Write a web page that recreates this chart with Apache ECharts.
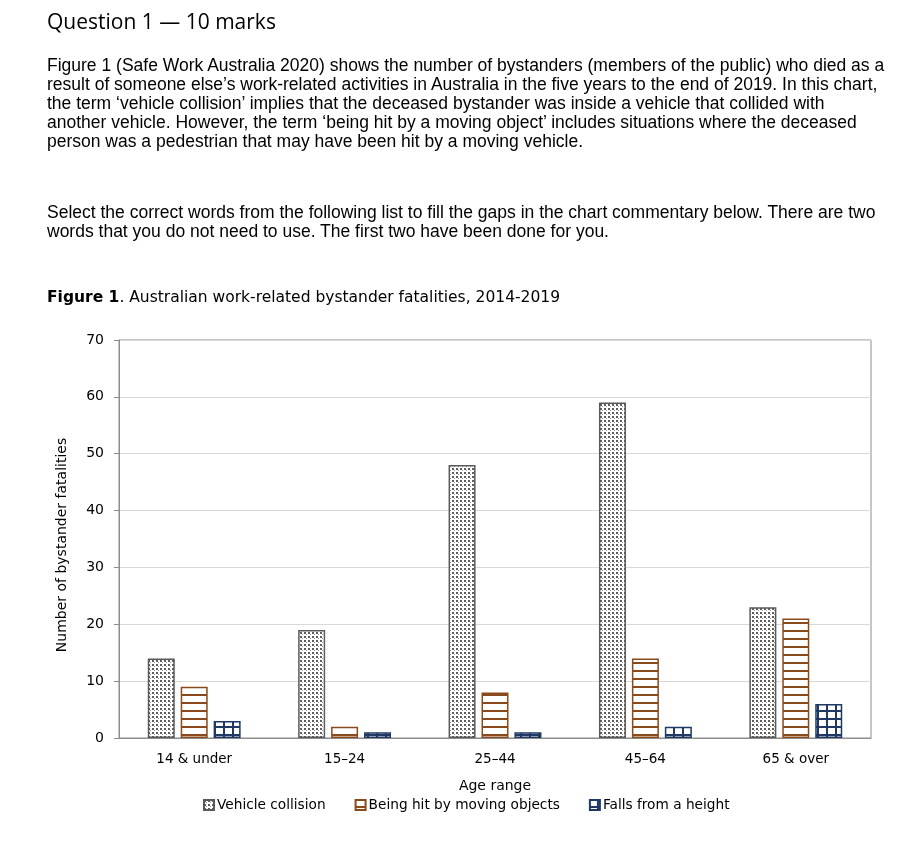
<!DOCTYPE html>
<html><head><meta charset="utf-8">
<script src="https://cdn.jsdelivr.net/npm/echarts@6/dist/echarts.min.js"></script>
<style>
html,body{margin:0;padding:0;background:#fff;}
#wrap{position:relative;width:916px;height:852px;overflow:hidden;}
#chart{position:absolute;left:0;top:0;width:916px;height:852px;}
.t{position:absolute;left:47px;color:#000;white-space:nowrap;}
#q{top:7px;font-family:"Open Sans","Noto Sans",sans-serif;font-size:21px;}
.p{font-family:"Liberation Sans",Arial,sans-serif;font-size:17.5px;line-height:19px;}
#fig{top:288px;font-family:"DejaVu Sans",sans-serif;font-size:15.5px;}
</style></head>
<body><div id="wrap">
<div id="chart"></div>
<div class="t" id="q">Question 1 — 10 marks</div>
<div class="t p" style="top:56px">Figure 1 (Safe Work Australia 2020) shows the number of bystanders (members of the public) who died as a<br>result of someone else’s work-related activities in Australia in the five years to the end of 2019. In this chart,<br>the term ‘vehicle collision’ implies that the deceased bystander was inside a vehicle that collided with<br>another vehicle. However, the term ‘being hit by a moving object’ includes situations where the deceased<br>person was a pedestrian that may have been hit by a moving vehicle.</div>
<div class="t p" style="top:203px">Select the correct words from the following list to fill the gaps in the chart commentary below. There are two<br>words that you do not need to use. The first two have been done for you.</div>
<div class="t" id="fig"><b>Figure 1</b>. Australian work-related bystander fatalities, 2014-2019</div>
</div>
<script>
const categories = ["14 & under", "15–24", "25–44", "45–64", "65 & over"];
const vehicleCollision = [14, 19, 48, 59, 23];
const hitByMovingObjects = [9, 2, 8, 14, 21];
const fallsFromHeight = [3, 1, 1, 2, 6];
const seriesNames = ["Vehicle collision", "Being hit by moving objects", "Falls from a height"];
const yTicks = {min: 0, max: 70, interval: 10};

function tile(w, h, draw) {
  const c = document.createElement('canvas');
  c.width = w; c.height = h;
  const g = c.getContext('2d');
  g.fillStyle = '#fff'; g.fillRect(0, 0, w, h);
  draw(g);
  return c;
}
const dotTile = tile(4, 4, g => { g.fillStyle = '#5f5f5f'; g.fillRect(0, 0, 2, 2); g.fillStyle='#9a9a9a'; g.fillRect(2,2,1,1); });
const lineTile = tile(8, 8, g => { g.fillStyle = '#8B4A1C'; g.fillRect(0, 6, 8, 2); });
const gridTile = tile(9, 8, g => { g.fillStyle = '#1F3864'; g.fillRect(0, 6, 9, 2); g.fillRect(7, 0, 2, 8); });

const brown = '#8B4A1C', navy = '#1F3864', gray = '#5a5a5a';
const font = '"DejaVu Sans",sans-serif';

const chart = echarts.init(document.getElementById('chart'), null, {renderer: 'canvas'});
chart.setOption({
  animation: false,
  grid: {left: 119, right: 45, top: 340, bottom: 114, show: true, borderColor: '#8c8c8c', borderWidth: 1, backgroundColor: 'transparent'},
  legend: {
    bottom: 35, left: 198, itemWidth: 10, itemHeight: 10, itemGap: 29,
    icon: 'rect',
    textStyle: {fontFamily: font, fontSize: 13.7, color: '#000', padding: [0, 0, 0, -2]},
    data: seriesNames
  },
  xAxis: {
    type: 'category', data: categories,
    axisLine: {show: true, lineStyle: {color: '#8c8c8c'}},
    axisTick: {show: false},
    axisLabel: {color: '#000', fontFamily: font, fontSize: 13.5, margin: 14},
    name: 'Age range', nameLocation: 'middle', nameGap: 41,
    nameTextStyle: {color: '#000', fontFamily: font, fontSize: 14}
  },
  yAxis: {
    type: 'value', min: yTicks.min, max: yTicks.max, interval: yTicks.interval,
    axisLine: {show: true, lineStyle: {color: '#8c8c8c'}},
    axisTick: {show: true, length: 5, lineStyle: {color: '#8c8c8c'}},
    splitLine: {show: true, lineStyle: {color: '#d9d9d9'}},
    axisLabel: {color: '#000', fontFamily: font, fontSize: 14, margin: 15},
    name: 'Number of bystander fatalities', nameLocation: 'middle', nameGap: 50, nameRotate: 90,
    nameTextStyle: {color: '#000', fontFamily: font, fontSize: 14, padding: [0, 12, 0, 0]}
  },
  series: [
    {name: seriesNames[0], type: 'bar', data: vehicleCollision, barWidth: 27, barGap: '22%',
     itemStyle: {color: {image: dotTile, repeat: 'repeat'}, borderColor: gray, borderWidth: 1.5}},
    {name: seriesNames[1], type: 'bar', data: hitByMovingObjects, barWidth: 27,
     itemStyle: {color: {image: lineTile, repeat: 'repeat'}, borderColor: brown, borderWidth: 1.5}},
    {name: seriesNames[2], type: 'bar', data: fallsFromHeight, barWidth: 27,
     itemStyle: {color: {image: gridTile, repeat: 'repeat'}, borderColor: navy, borderWidth: 1.5}}
  ]
});
</script>
</body></html>
